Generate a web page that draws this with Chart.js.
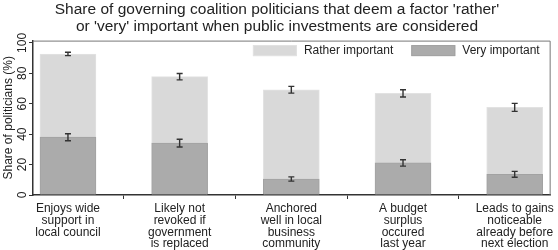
<!DOCTYPE html>
<html>
<head>
<meta charset="utf-8">
<script src="https://cdn.jsdelivr.net/npm/chart.js@4/dist/chart.umd.min.js"></script>
<style>
  html, body { margin: 0; padding: 0; background: #fff; }
  #wrap { width: 558px; height: 250px; position: relative; }
</style>
</head>
<body>
<div id="wrap"><canvas id="c" width="558" height="250"></canvas></div>
<script>
const titleLines = ["Share of governing coalition politicians that deem a factor 'rather'", "or 'very' important when public investments are considered"];
const yAxisTitle = "Share of politicians (%)";
const categories = [
  ["Enjoys wide", "support in", "local council"],
  ["Likely not", "revoked if", "government", "is replaced"],
  ["Anchored", "well in local", "business", "community"],
  ["A budget", "surplus", "occured", "last year"],
  ["Leads to gains", "noticeable", "already before", "next election"]
];
const seriesNames = ["Very important", "Rather important"];
const veryImportant = [38.0, 34.1, 10.5, 21.1, 13.6];
const ratherImportant = [54.7, 43.7, 58.7, 45.7, 44.0];
const veryErr = [2.3, 2.5, 1.4, 2.1, 1.9];
const totalErr = [1.1, 2.1, 2.2, 2.4, 2.6];
const yTicks = [0, 20, 40, 60, 80, 100];

const FONT = "'Liberation Sans', Arial, Helvetica, sans-serif";
const TXT = '#222';

const errorBarPlugin = {
  id: 'errorBars',
  afterDatasetsDraw(chart) {
    const ctx = chart.ctx, xs = chart.scales.x, ys = chart.scales.y;
    ctx.save();
    ctx.strokeStyle = '#333';
    ctx.lineWidth = 1.4;
    const drawBar = (xv, center, err) => {
      const x = xs.getPixelForValue(xv);
      const y1 = ys.getPixelForValue(center - err), y2 = ys.getPixelForValue(center + err);
      ctx.beginPath();
      ctx.moveTo(x, y1); ctx.lineTo(x, y2);
      ctx.moveTo(x - 3, y1); ctx.lineTo(x + 3, y1);
      ctx.moveTo(x - 3, y2); ctx.lineTo(x + 3, y2);
      ctx.stroke();
    };
    categories.forEach((c, i) => {
      drawBar(i, veryImportant[i], veryErr[i]);
      drawBar(i, veryImportant[i] + ratherImportant[i], totalErr[i]);
    });
    ctx.restore();
  }
};

const framePlugin = {
  id: 'frame',
  afterDraw(chart) {
    const ctx = chart.ctx, a = chart.chartArea;
    ctx.save();
    ctx.strokeStyle = '#777';
    ctx.lineWidth = 1;
    ctx.beginPath();
    ctx.moveTo(a.left, a.top + 0.5);
    ctx.lineTo(a.right - 0.5, a.top + 0.5);
    ctx.lineTo(a.right - 0.5, a.bottom);
    ctx.stroke();
    // legend inside plot
    ctx.font = '12px ' + FONT;
    ctx.textBaseline = 'middle';
    const order = [1, 0];
    const sw = 44, sh = 11, gap = 7, between = 18;
    let widths = order.map(i => ctx.measureText(chart.data.datasets[i].label).width);
    let total = widths.reduce((s, w) => s + sw + gap + w, 0) + between;
    let x = a.right - 11 - total;
    const yTop = a.top + 4.5;
    order.forEach((di, k) => {
      const ds = chart.data.datasets[di];
      ctx.fillStyle = ds.backgroundColor;
      ctx.fillRect(x, yTop, sw, sh);
      ctx.strokeStyle = ds.borderColor;
      ctx.strokeRect(x + 0.5, yTop + 0.5, sw - 1, sh - 1);
      ctx.fillStyle = TXT;
      ctx.fillText(ds.label, x + sw + gap, yTop + sh / 2 + 0.5);
      x += sw + gap + widths[k] + between;
    });
    ctx.restore();
  }
};

new Chart(document.getElementById('c'), {
  type: 'bar',
  data: {
    datasets: [
      { label: seriesNames[0], data: veryImportant.map((v, i) => ({x: i, y: v})),
        backgroundColor: '#ababab', borderColor: '#a2a2a2', borderWidth: 1, barThickness: 56, borderSkipped: 'bottom' },
      { label: seriesNames[1], data: ratherImportant.map((v, i) => ({x: i, y: v})),
        backgroundColor: '#d9d9d9', borderColor: '#e2e2e2', borderWidth: 1, barThickness: 56, borderSkipped: 'bottom' }
    ]
  },
  options: {
    responsive: false,
    animation: false,
    layout: { padding: { right: 4, left: 0, top: 0, bottom: 0 } },
    plugins: {
      legend: { display: false },
      tooltip: { enabled: false },
      title: {
        display: true, text: titleLines, color: TXT,
        font: { family: FONT, size: 15.5, weight: 'normal', lineHeight: 1.1 },
        padding: { top: 1.5, bottom: 5 }
      }
    },
    scales: {
      x: {
        type: 'linear', stacked: true, min: -0.313, max: 4.322, offset: false,
        afterBuildTicks: s => { s.ticks = categories.map((c, i) => ({value: i})); },
        afterFit: s => { s.height = 55; },
        ticks: {
          callback: (v) => categories[v], color: TXT, maxRotation: 0, minRotation: 0,
          font: { family: FONT, size: 12, lineHeight: 0.98 }, padding: 4, autoSkip: false
        },
        grid: { display: true, drawOnChartArea: false, drawTicks: true, tickLength: 4, color: '#333', tickWidth: 1 },
        border: { display: true, color: '#333', width: 1.5 }
      },
      y: {
        stacked: true, min: 0, max: 101.5,
        afterBuildTicks: s => { s.ticks = yTicks.map(v => ({value: v})); },
        afterFit: s => { s.width = 33; },
        ticks: {
          color: TXT, minRotation: 90, maxRotation: 90, padding: -4, crossAlign: 'center',
          font: { family: FONT, size: 12 }
        },
        title: {
          display: true, text: yAxisTitle, color: TXT,
          font: { family: FONT, size: 12 }, padding: { top: 1, bottom: 0 }
        },
        grid: { display: true, drawOnChartArea: false, drawTicks: true, tickLength: 4, color: '#333', tickWidth: 1 },
        border: { display: true, color: '#333', width: 1.5 }
      }
    }
  },
  plugins: [errorBarPlugin, framePlugin]
});
</script>
</body>
</html>
